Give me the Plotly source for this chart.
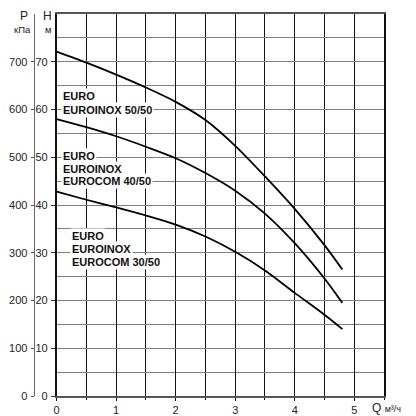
import plotly.graph_objects as go

# pump performance curves, head H (m) against flow Q (m3/h)
q = [0, 0.5, 1, 1.5, 2, 2.5, 3, 3.5, 4, 4.5, 4.8]
h_50_50 = [72.1, 69.8, 67.3, 64.6, 61.6, 57.8, 52.4, 46.0, 39.2, 31.6, 26.5]
h_40_50 = [58.0, 56.3, 54.4, 52.2, 49.8, 46.7, 43.0, 38.2, 32.0, 24.6, 19.5]
h_30_50 = [42.8, 41.1, 39.5, 37.8, 35.9, 33.4, 30.2, 26.3, 21.6, 17.0, 14.0]

h_ticks = [0, 10, 20, 30, 40, 50, 60, 70]
p_ticks = [0, 100, 200, 300, 400, 500, 600, 700]
q_ticks = [0, 1, 2, 3, 4, 5]

# label lines: (text, x, y) in data units
labels = [
    ("EURO", 0.08, 62.8),
    ("EUROINOX 50/50", 0.08, 59.8),
    ("EURO", 0.08, 50.3),
    ("EUROINOX", 0.08, 47.5),
    ("EUROCOM 40/50", 0.08, 45.1),
    ("EURO", 0.23, 33.6),
    ("EUROINOX", 0.23, 30.7),
    ("EUROCOM 30/50", 0.23, 28.1),
]

FONT = "Liberation Sans, Arial, sans-serif"
W = 376.0  # plot area width in px (margin l=0)
TOP = 1 + 6 / 384.0  # paper y of the figure's top edge

fig = go.Figure()
for h in [h_50_50, h_40_50, h_30_50]:
    fig.add_trace(go.Scatter(
        x=q, y=h, mode="lines",
        line=dict(color="black", width=1.8, shape="spline", smoothing=0.8),
        showlegend=False, hoverinfo="skip",
    ))

# separate thin subplot that carries the pressure axis (kPa)
fig.add_trace(go.Scatter(x=[None], y=[None], xaxis="x2", yaxis="y2",
                         showlegend=False, hoverinfo="skip"))

for text, x, y in labels:
    fig.add_annotation(
        x=x, y=y, xref="x", yref="y", text=f"<b>{text}</b>",
        xanchor="left", yanchor="middle", showarrow=False,
        bgcolor="white", borderpad=1,
        font=dict(family=FONT, size=11, color="#111"),
    )

# axis headers
for text, px in [("H", 45), ("P", 20.7)]:
    fig.add_annotation(
        x=(px - 8) / W, y=TOP, xref="paper", yref="paper", text=text,
        xanchor="center", yanchor="top", showarrow=False, borderpad=0,
        font=dict(family=FONT, size=12, color="#222"),
    )
for text, px in [("м", 45.5), ("кПа", 19.3)]:
    fig.add_annotation(
        x=(px - 8) / W, y=(398 - 30) / 384.0, xref="paper", yref="paper",
        text=text, xanchor="center", yanchor="middle", showarrow=False,
        borderpad=0, font=dict(family=FONT, size=9.5, color="#222"),
    )

fig.add_annotation(
    x=5.27, y=0, xref="x", yref="paper", yanchor="top", xanchor="left",
    yshift=-3, showarrow=False,
    text="Q <span style='font-size:9px'>м³/ч</span>",
    font=dict(family=FONT, size=12, color="#222"),
)

fig.update_layout(
    width=408, height=408,
    margin=dict(l=0, r=32, t=6, b=18),
    plot_bgcolor="white", paper_bgcolor="white",
    font=dict(family=FONT, size=11, color="#222"),
    xaxis=dict(
        domain=[46 / W, 1], range=[0, 5.5],
        tickvals=q_ticks, ticks="outside", ticklen=3, tickcolor="#111",
        showgrid=True, gridcolor="#111", gridwidth=1.2,
        minor=dict(dtick=0.5, tick0=0, showgrid=True, gridcolor="#111",
                   gridwidth=1.2, ticks="outside", ticklen=2, tickcolor="#111"),
        showline=True, linecolor="#555", linewidth=1.5, mirror=True,
        zeroline=False,
    ),
    yaxis=dict(
        range=[0, 80], tickvals=h_ticks,
        ticks="outside", ticklen=4, tickcolor="#333",
        showgrid=True, gridcolor="#808080", gridwidth=1.3,
        minor=dict(dtick=5, tick0=0, showgrid=True, gridcolor="#808080",
                   gridwidth=1.3),
        showline=True, linecolor="#111", linewidth=1.5, mirror=True,
        zeroline=False, ticklabelstandoff=1,
    ),
    xaxis2=dict(domain=[24 / W, 30 / W], anchor="y2", visible=False),
    yaxis2=dict(
        anchor="x2", side="left", range=[0, 800], tickvals=p_ticks,
        ticks="outside", ticklen=3, tickcolor="#555",
        showgrid=False, showline=True, linecolor="#666", linewidth=1.3,
        zeroline=False, ticklabelstandoff=1,
    ),
)

fig.write_html("out.html")
